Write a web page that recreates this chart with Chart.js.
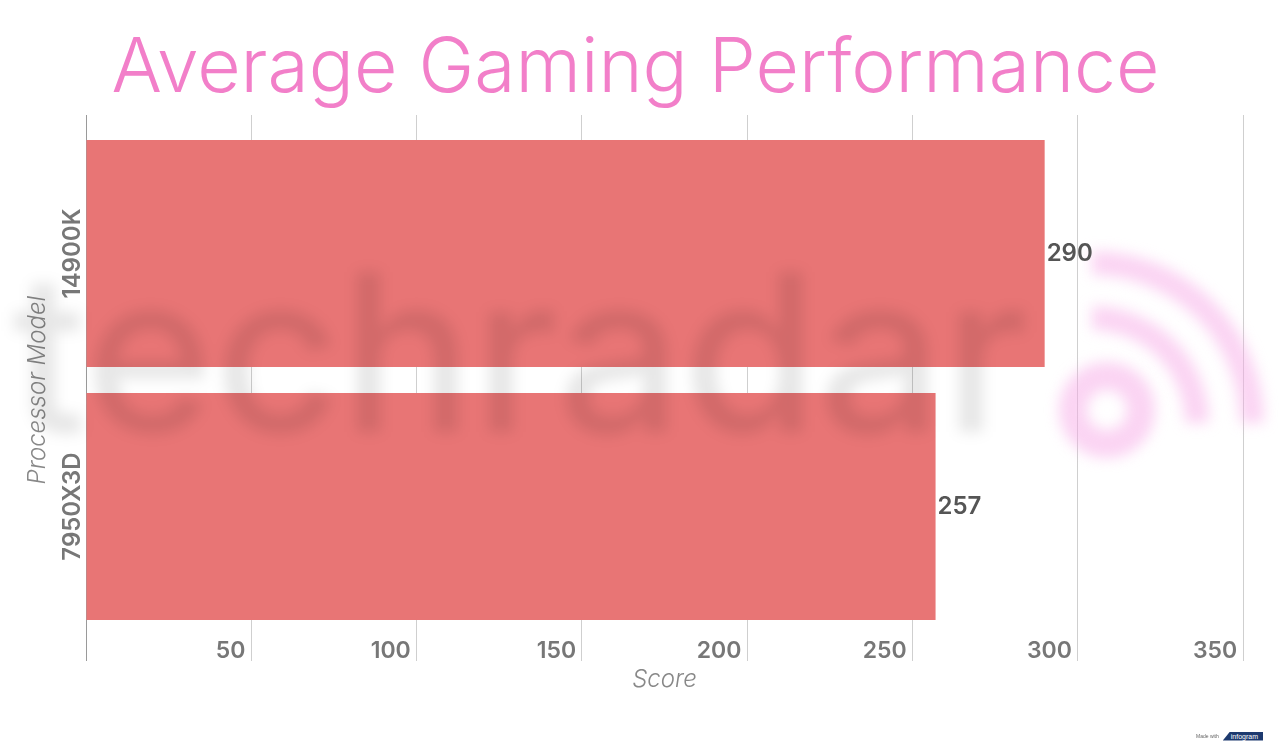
<!DOCTYPE html>
<html><head><meta charset="utf-8">
<script src="https://cdn.jsdelivr.net/npm/chart.js@4.4.1/dist/chart.umd.min.js"></script>
<style>
html,body{margin:0;padding:0;background:#fff;}
#wrap{position:relative;width:1280px;height:751px;overflow:hidden;}
canvas{display:block;}
#credit{position:absolute;left:1196px;top:729px;height:14px;display:flex;align-items:center;font-family:Arial,"Liberation Sans",sans-serif;}
#credit .made{font-size:5px;color:#666;margin-right:4px;}
#credit .badge{background:#1d3a6f;color:#fff;font-size:7px;padding:1px 5px 1px 8px;clip-path:polygon(18% 0,100% 0,100% 100%,0 100%);}
</style></head><body>
<div id="wrap"><canvas id="c" width="1280" height="751"></canvas>
<div id="credit"><span class="made">Made with</span><span class="badge">infogram</span></div></div>
<script>
const chartTitle = 'Average Gaming Performance';
const categories = ['14900K', '7950X3D'];
const scores = [290, 257];
const xMin = 0, xMax = 350, xStep = 50;
const xTitle = 'Score';
const yTitle = 'Processor Model';

const FONT = 'Inter, "Open Sans", sans-serif';

const gridExt = {
  id: 'gridExt',
  beforeDatasetsDraw(chart) {
    const ctx = chart.ctx, xs = chart.scales.x, a = chart.chartArea;
    ctx.save();
    ctx.lineWidth = 1;
    xs.ticks.forEach(t => {
      const p = Math.round(xs.getPixelForValue(t.value) - 0.5) + 0.5;
      ctx.strokeStyle = t.value === 0 ? '#9a9a9a' : '#cfcfcf';
      ctx.beginPath();
      ctx.moveTo(p, a.top - 12); ctx.lineTo(p, a.top);
      ctx.moveTo(p, a.bottom); ctx.lineTo(p, a.bottom + 28);
      ctx.stroke();
    });
    ctx.restore();
  }
};

const overlay = {
  id: 'overlay',
  afterDatasetsDraw(chart) {
    const ctx = chart.ctx;
    // blurred watermark
    ctx.save();
    ctx.filter = 'blur(7px)';
    ctx.fillStyle = 'rgba(0,0,0,0.095)';
    ctx.font = '500 220px ' + FONT;
    ctx.textBaseline = 'alphabetic';
    ctx.textAlign = 'left';
    ctx.fillText('techradar', 12, 432);
    ctx.strokeStyle = 'rgba(248,170,232,0.5)';
    ctx.lineWidth = 24;
    ctx.beginPath(); ctx.arc(1092, 423, 160, -Math.PI / 2, 0); ctx.stroke();
    ctx.beginPath(); ctx.arc(1092, 423, 105, -Math.PI / 2, 0); ctx.stroke();
    ctx.lineWidth = 28;
    ctx.beginPath(); ctx.arc(1107, 410, 34, 0, Math.PI * 2); ctx.stroke();
    ctx.restore();
    // value labels
    const meta = chart.getDatasetMeta(0);
    ctx.save();
    ctx.fillStyle = '#555';
    ctx.font = '600 24px ' + FONT;
    ctx.textAlign = 'left';
    ctx.textBaseline = 'middle';
    meta.data.forEach((bar, i) => {
      ctx.fillText(String(scores[i]), bar.x + 2, bar.y);
    });
    ctx.restore();
  }
};

new Chart(document.getElementById('c'), {
  type: 'bar',
  data: {
    labels: categories,
    datasets: [{
      data: scores,
      backgroundColor: '#e87575',
      borderWidth: 0,
      barPercentage: 0.897,
      categoryPercentage: 1
    }]
  },
  options: {
    indexAxis: 'y',
    responsive: false,
    devicePixelRatio: 1,
    animation: false,
    layout: { padding: { top: 0, left: 0, right: 9, bottom: 0 } },
    plugins: {
      legend: { display: false },
      tooltip: { enabled: false },
      title: {
        display: true, text: chartTitle, color: '#f27fc9',
        font: { family: FONT, size: 75, weight: '300' },
        padding: { top: 24, bottom: 13 }
      }
    },
    scales: {
      x: {
        type: 'linear', min: xMin, max: xMax, position: 'bottom',
        ticks: {
          stepSize: xStep, align: 'end', padding: 4, color: '#777',
          font: { family: FONT, size: 23, weight: '600' },
          callback: v => v === 0 ? '' : v + ' '
        },
        grid: {
          drawTicks: false, lineWidth: 1,
          color: c => (c.tick && c.tick.value === 0) ? '#9a9a9a' : '#cfcfcf'
        },
        border: { display: false },
        title: {
          display: true, text: xTitle, color: '#888',
          font: { family: FONT, size: 24, style: 'italic', weight: '300' },
          padding: { top: 0, bottom: 57 }
        },
        afterFit(s) { s.height = 118; s.paddingLeft = 0; s.paddingRight = 37; }
      },
      y: {
        type: 'category', offset: true,
        ticks: {
          minRotation: 90, maxRotation: 90, crossAlign: 'center', padding: -41,
          color: '#777', font: { family: FONT, size: 24, weight: '600' }
        },
        grid: { display: false, drawTicks: false },
        border: { display: false },
        title: {
          display: true, text: yTitle + '   ', color: '#888',
          font: { family: FONT, size: 24, style: 'italic', weight: '300' },
          padding: { top: 23, bottom: 0 }
        },
        afterFit(s) { s.width = 86; s.paddingTop = 0; s.paddingBottom = 0; }
      }
    }
  },
  plugins: [gridExt, overlay]
});
</script>
</body></html>
